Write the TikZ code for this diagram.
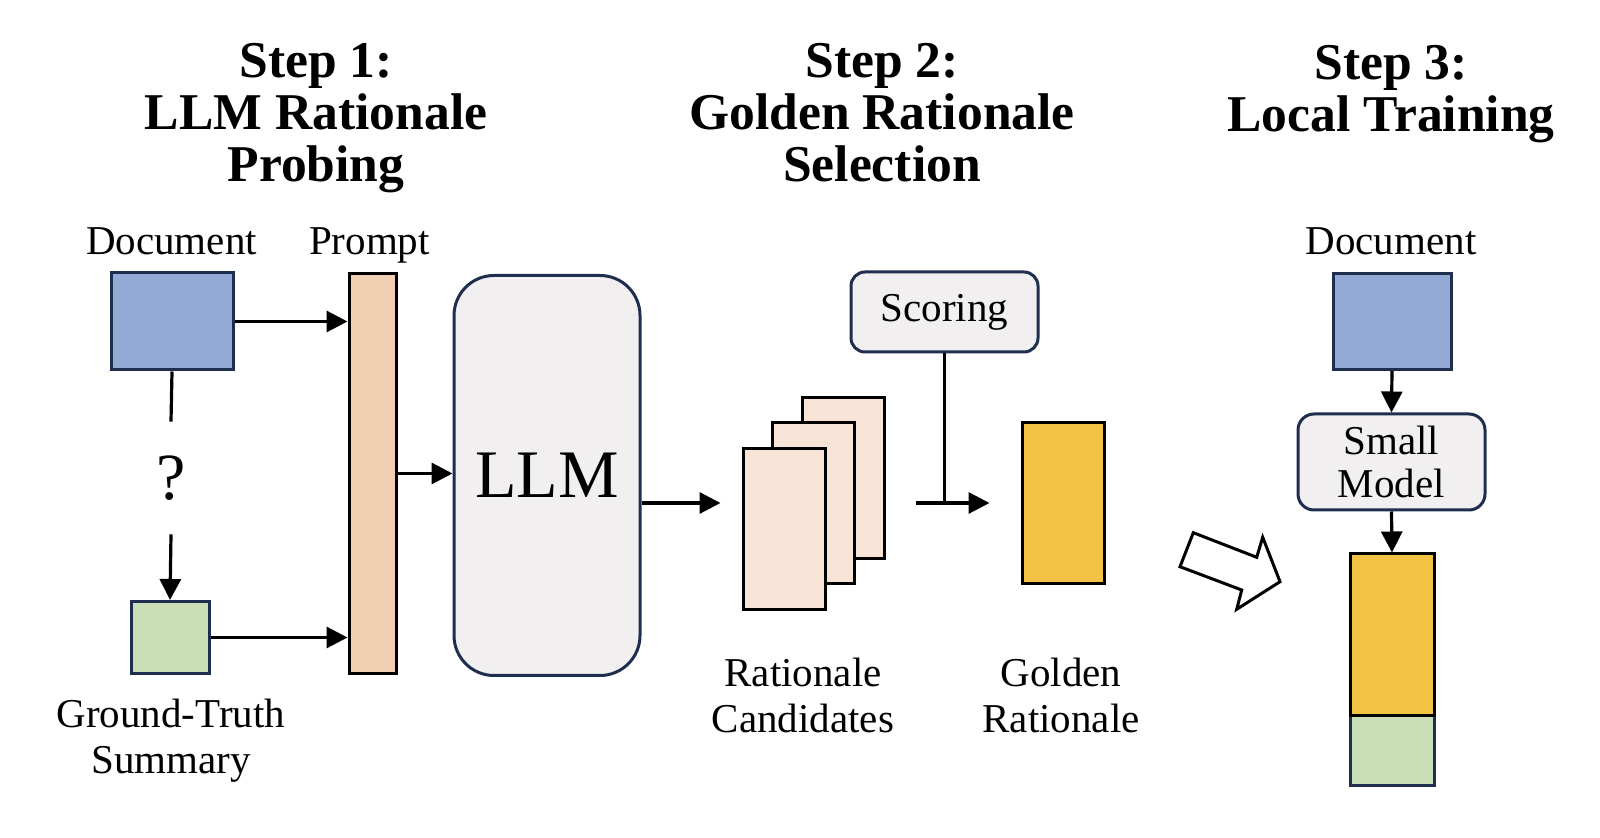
\documentclass[tikz,border=0pt]{standalone}
\usepackage{fontspec}
\setmainfont{Liberation Serif}
\usetikzlibrary{arrows.meta,positioning,calc}
\definecolor{ink}{RGB}{31,45,78}
\definecolor{docblue}{RGB}{147,169,214}
\definecolor{peach}{RGB}{240,207,178}
\definecolor{soft}{RGB}{241,239,240}
\definecolor{candfill}{RGB}{247,228,214}
\definecolor{gold}{RGB}{242,194,68}
\definecolor{sage}{RGB}{202,223,184}
\tikzset{
  blk/.style={draw=ink,line width=1.5pt,inner sep=0pt},
  bar/.style={draw=black,line width=1.5pt,inner sep=0pt},
  model/.style={draw=ink,line width=1.5pt,fill=soft,inner sep=0pt,align=center},
  ttl/.style={align=center,font=\fontsize{25.8}{26}\selectfont\bfseries},
  lbl/.style={align=center,font=\fontsize{20.5}{23}\selectfont},
  arr/.style={-{Triangle[length=10.5pt,width=10.5pt]},line width=1.6pt},
  ln/.style={line width=1.6pt},
}
\begin{document}
\begin{tikzpicture}[x=0.5pt,y=-0.5pt]
\useasboundingbox (0,0) rectangle (1600,838);
% step titles
\node[ttl] (t1) at (316,118) {Step 1:\\LLM Rationale\\Probing};
\node[ttl] (t2) at (882,113) {Step 2:\\Golden Rationale\\Selection};
\node[ttl] (t3) at (1391,94) {Step 3:\\Local Training};

% step 1
\node[blk,fill=docblue,minimum width=61pt,minimum height=48.5pt] (docL) at (172,321.5) {};
\node[lbl,anchor=base] (docLlbl) at (171.5,255) {Document};
\node[bar,fill=peach,minimum width=23.5pt,minimum height=200pt] (prompt) at (372.5,473.5) {};
\node[lbl,anchor=base] (promptlbl) at (369.5,255) {Prompt};
\node[inner sep=0pt,minimum height=56pt,font=\fontsize{33}{33}\selectfont] (q) at (171,478) {?};
\node[blk,fill=sage,minimum width=39pt,minimum height=36pt] (gt) at (170,637.5) {};
\node[lbl] (gtlbl) at (171,741) {Ground-Truth\\Summary};
\node[model,rounded corners=20pt,minimum width=93pt,minimum height=200pt,
  font=\fontsize{34}{34}\selectfont] (llm) at (547,475.5) {LLM};

\draw[ln] (docL.south) -- (q.north);
\draw[arr] (q.south) -- (gt.north);
\draw[arr] (docL.east) -- (docL.east -| prompt.west);
\draw[arr] (gt.east) -- (gt.east -| prompt.west);
\draw[arr] (prompt.east) -- (prompt.east -| llm.west);

% step 2
\node[bar,fill=candfill,minimum width=41pt,minimum height=80.5pt] (cb) at (843,478.5) {};
\node[bar,fill=candfill,minimum width=41pt,minimum height=80.5pt] (cm) at (813.5,503) {};
\node[bar,fill=candfill,minimum width=41pt,minimum height=80.5pt] (cf) at (784,529.5) {};
\node[lbl] (candlbl) at (803,695) {Rationale\\Candidates};
\node[model,rounded corners=7pt,minimum width=93.5pt,minimum height=40pt,
  font=\fontsize{20.5}{23}\selectfont] (scoring) at (944.5,312) {Scoring};
\node[bar,fill=gold,minimum width=41pt,minimum height=80.5pt] (golden) at (1063,503) {};
\node[lbl] (goldlbl) at (1061,695) {Golden\\Rationale};

\draw[arr,shorten >=10.5pt] (llm.east |- cm) -- (cf.west |- cm);
\draw[arr,shorten <=15pt,shorten >=15.5pt] (cb.east |- golden.west) -- (golden.west);
\draw[ln] (scoring.south) -- (scoring.south |- golden.west);

% hand-over arrow
\draw[line width=1.5pt,fill=white,line join=miter] (1193.3,532.7) -- (1180,566.7)
  -- (1241.7,590) -- (1236.7,609.3) -- (1280,581.7) -- (1262.7,537.3)
  -- (1256.7,557.3) -- cycle;

% step 3
\node[lbl,anchor=base] (docRlbl) at (1391,255) {Document};
\node[blk,fill=docblue,minimum width=59pt,minimum height=48pt] (docR) at (1392,321.5) {};
\node[model,rounded corners=8pt,minimum width=93.5pt,minimum height=48pt,
  font=\fontsize{20.5}{21.5}\selectfont] (small) at (1391.5,462) {Small\\Model};
\node[blk,fill=sage,minimum width=42pt,minimum height=35pt] (gr) at (1392,750) {};
\node[bar,fill=gold,minimum width=42pt,minimum height=80.5pt] (yel) at (1392,634.5) {};

\draw[arr] (docR.south) -- (small.north);
\draw[arr] (small.south) -- (yel.north);
\end{tikzpicture}
\end{document}
